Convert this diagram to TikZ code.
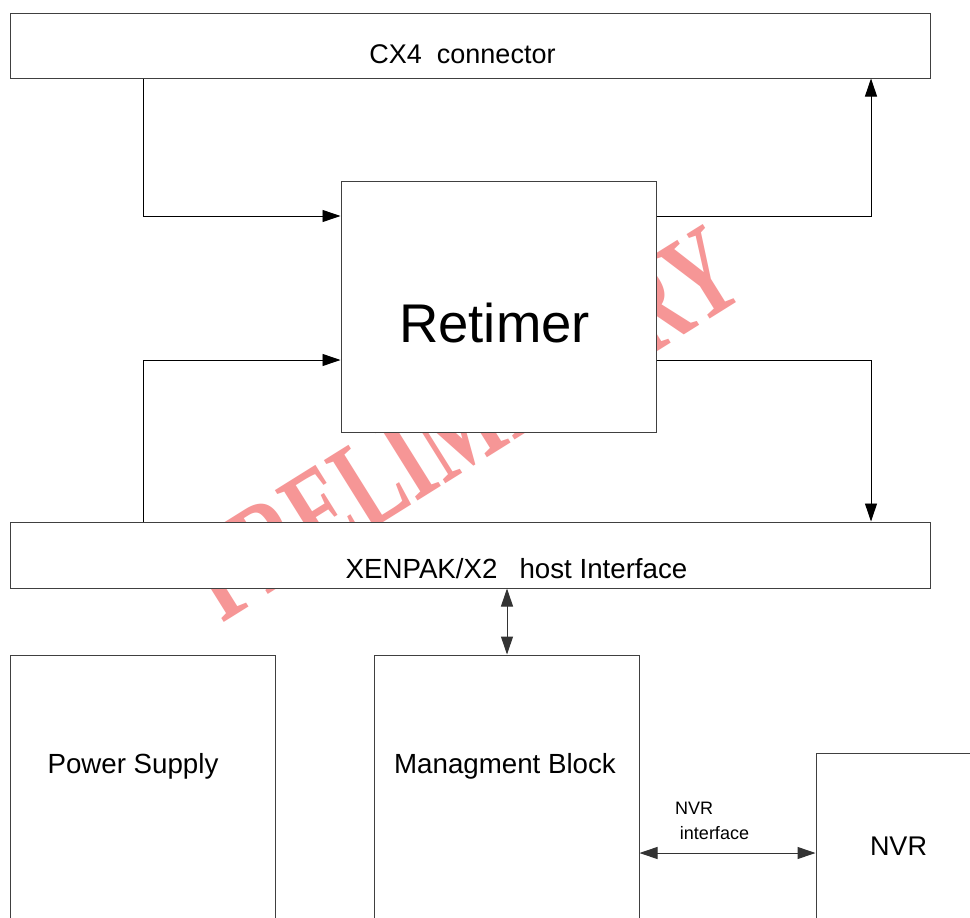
\documentclass[tikz,border=0pt]{standalone}
\usepackage{fontspec}
\setmainfont{Liberation Sans}
\newfontfamily\wmfont{Liberation Serif}
\usetikzlibrary{arrows.meta}
\definecolor{wmred}{RGB}{246,150,150}
\begin{document}
\begin{tikzpicture}[x=1pt,y=-1pt,
  box/.style={draw=black!75, line width=1pt, fill=white, inner sep=0pt},
  conn/.style={draw=black, line width=0.9pt, -{Triangle[length=18pt,width=12pt]}},
  biconn/.style={draw=black!80, line width=1pt, {Triangle[length=18pt,width=12pt]}-{Triangle[length=18pt,width=12pt]}},
  lbl/.style={anchor=base, inner sep=0pt, font=\fontsize{27.7}{30}\selectfont}]
\useasboundingbox (0,0) rectangle (970,918);
\clip (0,0) rectangle (970,918);
\fill[white] (0,0) rectangle (970,918);
% watermark
\node[rotate=32, xscale=0.67, inner sep=0pt, text=wmred, font=\wmfont\bfseries\fontsize{128}{128}\selectfont] (wm) at (463,423) {PRELIMINARY};
% boxes
\node[box, minimum width=920pt, minimum height=65pt] (cx4) at (470,45.5) {};
\node[box, minimum width=315pt, minimum height=251pt] (retimer) at (498.5,306.5) {};
\node[box, minimum width=920pt, minimum height=66pt] (xenpak) at (470,555) {};
\node[box, minimum width=265pt, minimum height=295pt] (power) at (142.5,802.5) {};
\node[box, minimum width=265pt, minimum height=295pt] (mgmt) at (506.5,802.5) {};
\node[box, minimum width=184pt, minimum height=197pt] (nvr) at (908,851.5) {};
% labels
\node[lbl, font=\fontsize{27}{30}\selectfont] (cx4t) at (462.5,63) {CX4\hspace{15pt}connector};
\node[lbl] (xent) at (516.5,578) {XENPAK/X2\hspace{22pt}host Interface};
\node[lbl, font=\fontsize{54.5}{60}\selectfont] (rett) at (494.5,342) {Retimer};
\node[lbl, font=\fontsize{27.7}{30}\selectfont] (powt) at (133,773) {Power Supply};
\node[lbl] (mgmtt) at (505,773) {Managment Block};
\node[lbl, font=\fontsize{27}{30}\selectfont] (nvrt) at (898.5,855) {NVR};
\node[lbl, font=\fontsize{18}{20}\selectfont] (nvri1) at (694,814) {NVR};
\node[lbl, font=\fontsize{18}{20}\selectfont] (nvri2) at (714.5,839) {interface};
% helper coordinates
\coordinate (lx) at (143,0);
\coordinate (rx) at (871,0);
\coordinate (mx) at (507,0);
\coordinate (uy) at (0,216);
\coordinate (ly) at (0,360);
\coordinate (ny) at (0,853);
% connectors
\draw[conn] (lx |- cx4.south) |- (retimer.west |- uy);
\draw[conn] (lx |- xenpak.north) |- (retimer.west |- ly);
\draw[conn] (retimer.east |- uy) -| (rx |- cx4.south);
\draw[conn] (retimer.east |- ly) -| (rx |- xenpak.north);
\draw[biconn] (mx |- xenpak.south) -- (mx |- mgmt.north);
\draw[biconn] (mgmt.east |- ny) -- (nvr.west |- ny);
\end{tikzpicture}
\end{document}
